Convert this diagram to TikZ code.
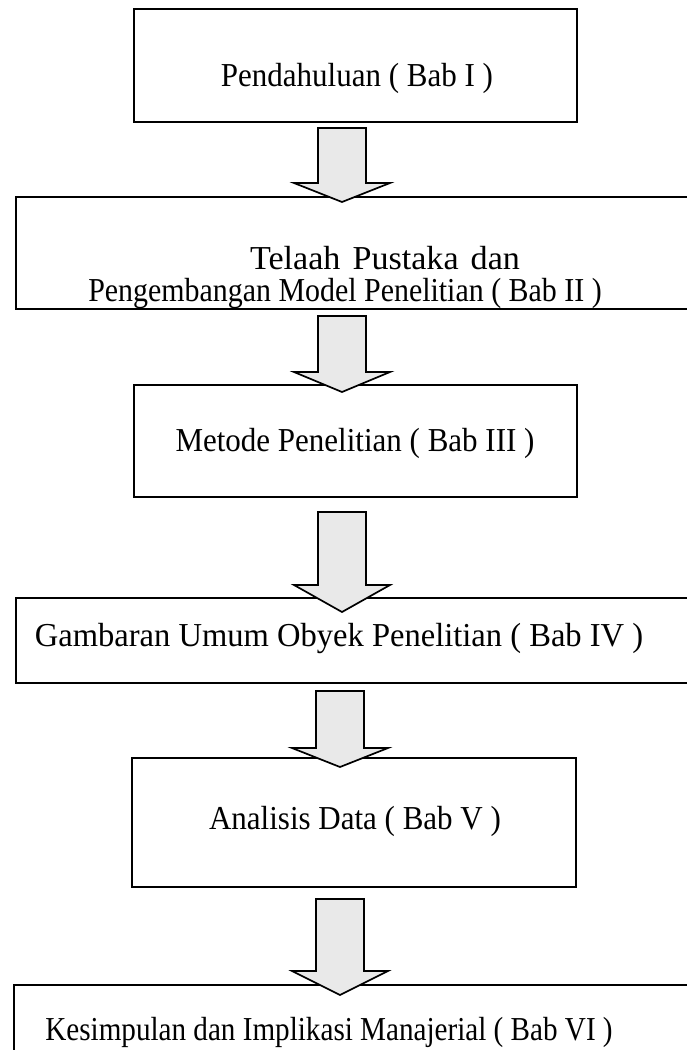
\documentclass[tikz,border=0pt]{standalone}
\usepackage{fontspec}
\setmainfont{Liberation Serif}
\usetikzlibrary{calc}
\tikzset{
  box/.style={draw=black, line width=1.7pt, fill=white, inner sep=0pt},
  lbl/.style={font=\fontsize{31}{34}\selectfont, inner sep=0pt, anchor=base, yscale=1.08},
  barrow/.style={draw=black, line width=1.7pt, fill=gray!17, line join=miter}
}
\newcommand\blockarrow[3]{%
  \draw[barrow] ($(#1)+(-24,0)$) -- ($(#2)+(-24,-#3)$) -- ($(#2)+(-48,-#3)$)
    -- (#2) -- ($(#2)+(48,-#3)$) -- ($(#2)+(24,-#3)$) -- ($(#1)+(24,0)$) -- cycle;}
\begin{document}
\begin{tikzpicture}[x=1pt,y=-1pt]
\useasboundingbox (0,0) rectangle (687,1050);
\clip (0,0) rectangle (687,1050);
% boxes
\node[box, anchor=north west, minimum width=443, minimum height=113] (b1) at (133,8) {};
\node[box, anchor=north west, minimum width=705, minimum height=112] (b2) at (15,196) {};
\node[box, anchor=north west, minimum width=443, minimum height=112] (b3) at (133,384) {};
\node[box, anchor=north west, minimum width=705, minimum height=85] (b4) at (15,597) {};
\node[box, anchor=north west, minimum width=444, minimum height=129] (b5) at (131,757) {};
\node[box, anchor=north west, minimum width=707, minimum height=120] (b6) at (13,984) {};
% texts
\node[lbl] (t1) at (357,86) {Pendahuluan ( Bab I )};
\node[lbl, xscale=1.1] (t2a) at (385,269) {\spaceskip=11pt Telaah Pustaka dan};
\node[lbl, xscale=0.965] (t2b) at (345,301) {Pengembangan Model Penelitian ( Bab II )};
\node[lbl] (t3) at (355,451) {Metode Penelitian ( Bab III )};
\node[lbl, xscale=1.05] (t4) at (339,646) {Gambaran Umum Obyek Penelitian ( Bab IV )};
\node[lbl] (t5) at (355,829) {Analisis Data ( Bab V )};
\node[lbl, xscale=0.94] (t6) at (329,1040) {Kesimpulan dan Implikasi Manajerial ( Bab VI )};
% arrow ends
\coordinate (a1s) at (342,128); \coordinate (a1e) at (342,202);
\coordinate (a2s) at (342,316); \coordinate (a2e) at (342,392);
\coordinate (a3s) at (342,512); \coordinate (a3e) at (342,612);
\coordinate (a4s) at (340,691); \coordinate (a4e) at (340,767);
\coordinate (a5s) at (340,899); \coordinate (a5e) at (340,995);
\blockarrow{a1s}{a1e}{19}
\blockarrow{a2s}{a2e}{20}
\blockarrow{a3s}{a3e}{27}
\blockarrow{a4s}{a4e}{19}
\blockarrow{a5s}{a5e}{24}
\end{tikzpicture}
\end{document}
